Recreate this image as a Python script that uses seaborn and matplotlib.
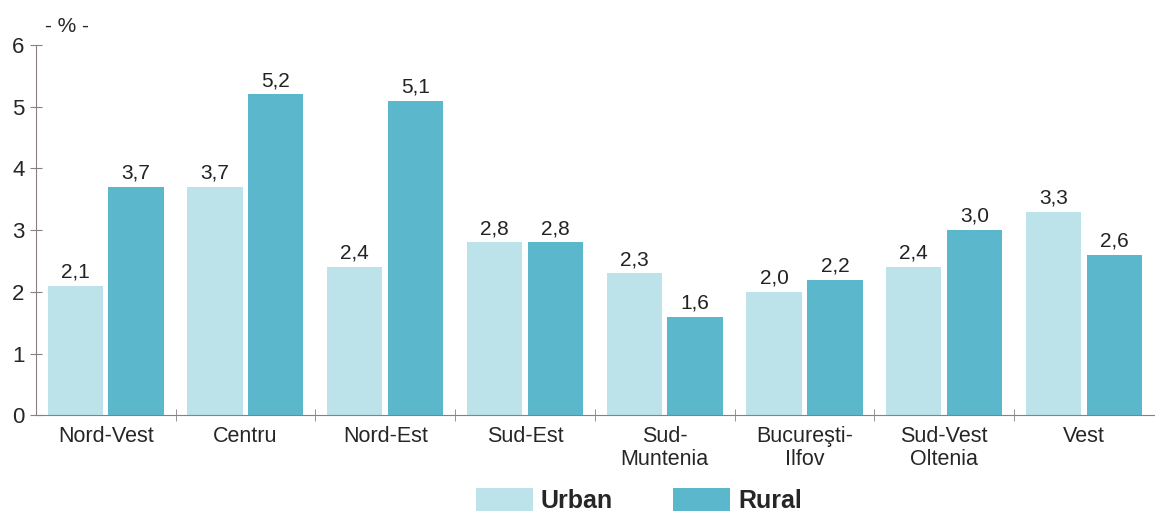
import matplotlib
matplotlib.use("Agg")
import matplotlib.pyplot as plt
from matplotlib.patches import Patch
import seaborn as sns
import pandas as pd

regions = ["Nord-Vest", "Centru", "Nord-Est", "Sud-Est", "Sud-\nMuntenia",
           "Bucureşti-\nIlfov", "Sud-Vest\nOltenia", "Vest"]
urban = [2.1, 3.7, 2.4, 2.8, 2.3, 2.0, 2.4, 3.3]
rural = [3.7, 5.2, 5.1, 2.8, 1.6, 2.2, 3.0, 2.6]
series = ["Urban", "Rural"]
colors = ["#bde3ea", "#5bb8cc"]

df = pd.DataFrame({
    "region": regions * 2,
    "area": ["Urban"] * len(regions) + ["Rural"] * len(regions),
    "value": urban + rural,
})

sns.set_style("white")
plt.rcParams["font.family"] = ["Liberation Sans", "DejaVu Sans"]

fig = plt.figure(figsize=(11.55, 5.12), dpi=100)
ax = fig.add_axes([0.031, 0.189, 0.968, 0.723])

sns.barplot(data=df, x="region", y="value", hue="area", hue_order=series,
            palette=colors, width=0.87, gap=0.09, ax=ax, legend=False,
            saturation=1, edgecolor="none", linewidth=0)

for cont in ax.containers:
    ax.bar_label(cont, labels=[f"{v:.1f}".replace(".", ",") for v in cont.datavalues],
                 padding=3, fontsize=15, color="#222222")

ax.set_xlim(-0.5, len(regions) - 0.5)
ax.set_ylim(0, 6)
ax.set_yticks(range(0, 7))
ax.tick_params(axis="y", labelsize=16, direction="inout", length=8, color="#8a8080",
               left=True, pad=4)
ax.tick_params(axis="x", labelsize=15.5, length=0, pad=8)
for lbl in ax.get_xticklabels():
    lbl.set_linespacing(1.08)
ax.set_xticks([i + 0.5 for i in range(len(regions) - 1)], minor=True)
ax.tick_params(axis="x", which="minor", direction="inout", length=8, color="#8a8080",
               bottom=True)
ax.set_xlabel("")
ax.set_ylabel("")
for s in ["top", "right"]:
    ax.spines[s].set_visible(False)
ax.spines["left"].set_color("#8a8080")
ax.spines["bottom"].set_color("#8a8080")

fig.text(0.058, 0.948, "- % -", fontsize=15, ha="center", va="center")

handles = [Patch(facecolor=c, edgecolor="none") for c in colors]
leg = fig.legend(handles, series, loc="center", bbox_to_anchor=(0.553, 0.022),
                 ncol=2, frameon=False, handlelength=2.3, handleheight=1.0,
                 handletextpad=0.3, columnspacing=2.4,
                 prop={"weight": "bold", "size": 18})

fig.savefig("out.png", dpi=100)
